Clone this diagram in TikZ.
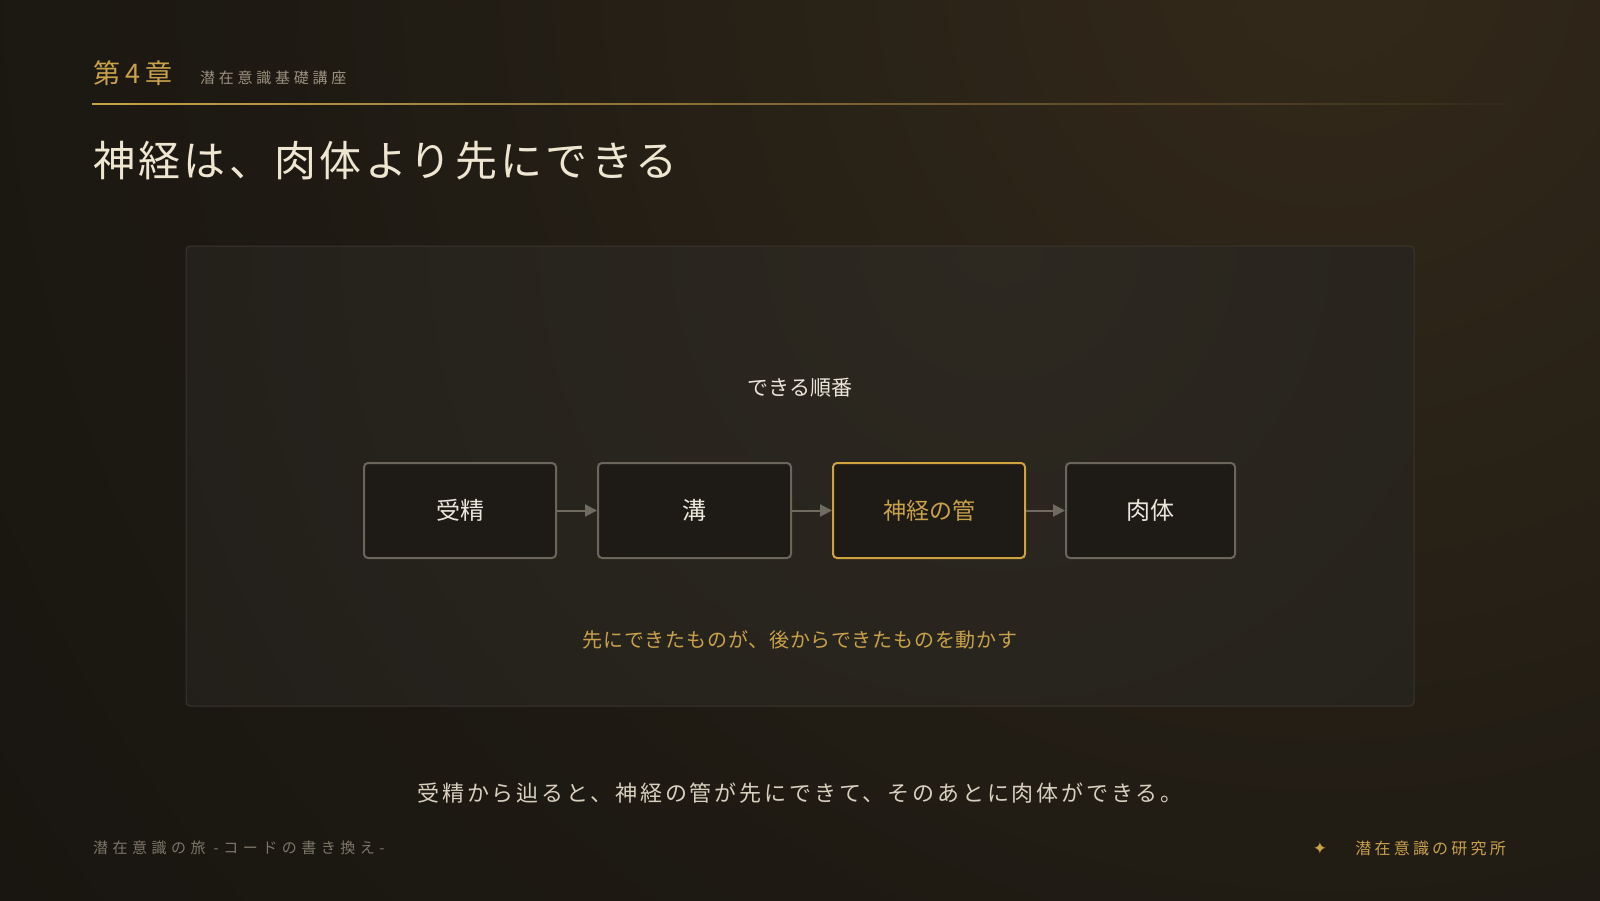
\documentclass[tikz,border=0pt]{standalone}
\usepackage{fontspec}
\setmainfont{Noto Sans CJK JP}
\newfontfamily\jp{Noto Sans CJK JP}
\newfontfamily\sym{DejaVu Sans}
\usetikzlibrary{arrows.meta}
\definecolor{basec}{HTML}{13100D}
\definecolor{midc}{HTML}{1E1A13}
\definecolor{glowc}{HTML}{33291A}
\definecolor{panelin}{HTML}{2D2921}
\definecolor{panelout}{HTML}{1E1B17}
\definecolor{panelline}{HTML}{3A352D}
\definecolor{goldc}{HTML}{C9A14B}
\definecolor{goldbox}{HTML}{CFA13F}
\definecolor{creamc}{HTML}{EFE6D2}
\definecolor{sentc}{HTML}{D8CFBE}
\definecolor{footc}{HTML}{7D7668}
\definecolor{subc}{HTML}{9A907E}
\definecolor{boxline}{HTML}{6B655C}
\definecolor{boxfill}{HTML}{1E1B17}
\definecolor{boxtext}{HTML}{ECE6DA}
\definecolor{arrowc}{HTML}{706A60}
\pgfdeclareradialshading{bgglow}{\pgfpoint{0bp}{0bp}}{color(0bp)=(glowc); color(15bp)=(midc); color(32bp)=(basec); color(50bp)=(basec)}
\pgfdeclareradialshading{panelglow}{\pgfpoint{0bp}{0bp}}{color(0bp)=(panelin); color(30bp)=(panelout); color(50bp)=(panelout)}
\tikzset{
  stepbox/.style={draw=boxline, line width=2pt, fill=boxfill, rounded corners=4pt,
    minimum height=95pt, inner sep=0pt, text=boxtext, font=\jp\fontsize{24}{24}\selectfont},
  goldstepbox/.style={stepbox, draw=goldbox, text=goldc},
  flowarrow/.style={draw=arrowc, line width=2pt, -{Triangle[length=12pt,width=12pt]}},
  txt/.style={inner sep=0pt},
}
\begin{document}
\begin{tikzpicture}[x=1pt,y=-1pt]
\useasboundingbox (0,0) rectangle (1600,900);
% background
\fill[basec] (0,0) rectangle (1600,900);
\begin{scope}
  \clip (0,0) rectangle (1600,900);
  \shade[shading=bgglow] (1330,-40) circle (1760);
\end{scope}
% header
\node[txt, anchor=west, text=goldc] (chap) at (93,73)
  {\fontsize{27}{27}\selectfont\addfontfeature{LetterSpace=20}第4章};
\node[txt, anchor=west, text=subc] (series) at (200,78)
  {\fontsize{15}{15}\selectfont\addfontfeature{LetterSpace=25}潜在意識基礎講座};
\shade[left color=goldc, right color=glowc] (92,103.4) rectangle (1508,104.8);
\node[txt, anchor=west, text=creamc] (title) at (93,161)
  {\fontsize{42}{42}\selectfont\addfontfeature{LetterSpace=8}神経は、肉体より先にできる};
% panel
\begin{scope}
  \clip[rounded corners=4pt] (186,246) rectangle (1414,706);
  \shade[shading=panelglow] (1000,240) circle (1100);
\end{scope}
\draw[panelline, line width=1pt, rounded corners=4pt] (186,246) rectangle (1414,706);
\node[txt, text=boxtext] (order) at (800,388)
  {\fontsize{21}{21}\selectfont できる順番};
% boxes
\node[stepbox, minimum width=192pt] (b1) at (460,510.5) {受精};
\node[stepbox, minimum width=193pt] (b2) at (694.5,510.5) {溝};
\node[goldstepbox, minimum width=192pt, font=\jp\fontsize{23}{23}\selectfont] (b3) at (929,510.5) {神経の管};
\node[stepbox, minimum width=169pt] (b4) at (1150.5,510.5) {肉体};
\draw[flowarrow] (b1.east) -- (b2.west);
\draw[flowarrow] (b2.east) -- (b3.west);
\draw[flowarrow] (b3.east) -- (b4.west);
\node[txt, text=goldc] (caption) at (800,640)
  {\fontsize{20}{20}\selectfont\addfontfeature{LetterSpace=4}先にできたものが、後からできたものを動かす};
% bottom
\node[txt, text=sentc] (sentence) at (800,793)
  {\fontsize{22}{22}\selectfont\addfontfeature{LetterSpace=13}受精から辿ると、神経の管が先にできて、そのあとに肉体ができる。};
\node[txt, anchor=west, text=footc] (footl) at (93,848)
  {\fontsize{15}{15}\selectfont\addfontfeature{LetterSpace=30}潜在意識の旅 -コードの書き換え-};
\node[txt, anchor=east, text=goldc] (footr) at (1506,848)
  {\fontsize{16}{16}\selectfont\addfontfeature{LetterSpace=20}潜在意識の研究所};
\node[txt, text=goldc] (star) at (1320,848) {\sym\fontsize{17}{17}\selectfont ✦};
\end{tikzpicture}
\end{document}
